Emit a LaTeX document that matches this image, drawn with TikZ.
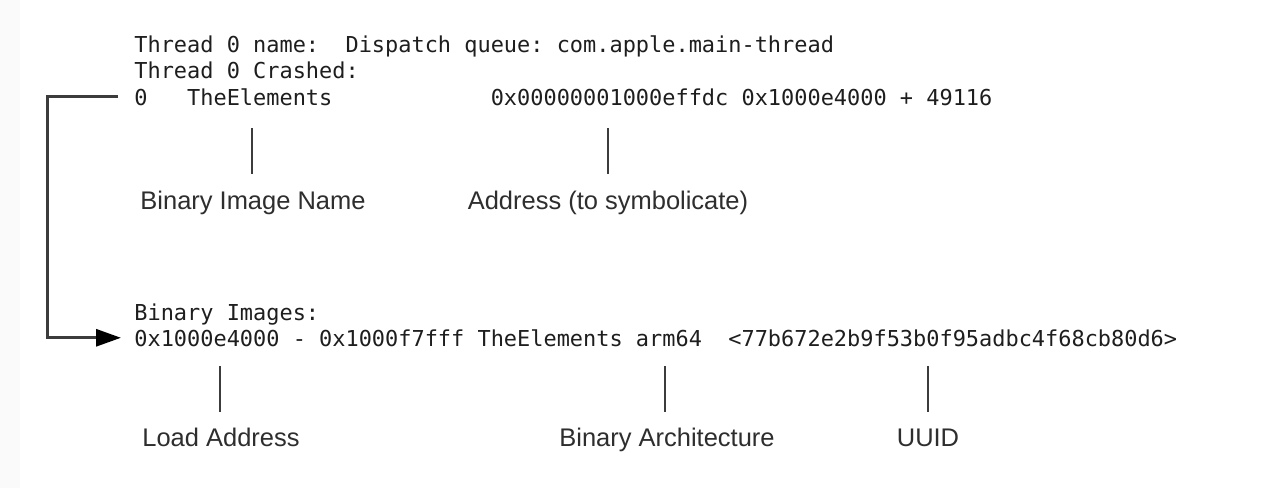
\documentclass[tikz,border=0pt]{standalone}
\usepackage{fontspec}
\setmainfont{Liberation Sans}
\newfontfamily\codefont{DejaVu Sans Mono}
\usetikzlibrary{arrows.meta}
\definecolor{inchiostro}{HTML}{1E1E1E}
\definecolor{grafite}{HTML}{2E2E2E}
\definecolor{tratto}{HTML}{3C3C3C}
\definecolor{margine}{HTML}{FAFAFA}
\tikzstyle{codeline} = [anchor=base west, inner sep=0pt, text=inchiostro,
font=\codefont\fontsize{12.48pt}{15pt}\selectfont\frenchspacing]
\tikzstyle{captiontext} = [anchor=base, inner sep=0pt, text=grafite,
font=\fontsize{14.5pt}{17pt}\selectfont]
\tikzstyle{tickmark} = [line width=0.05cm, draw=tratto]
\tikzstyle{arrow} = [line width=0.06cm, draw=tratto, -{Triangle[length=0.5cm,width=0.34cm,color=black]}]

\begin{document}
\begin{tikzpicture}[x=0.02cm,y=-0.02cm]
						\fill[white] (0,0) rectangle (1284,488);
						\fill[margine] (0,0) rectangle (20,488);
						\useasboundingbox (0,0) rectangle (1284,488);
						% crash report, thread 0
						\node[codeline] (threadname) at (134,52) {Thread 0 name:~~Dispatch queue: com.apple.main-thread};
						\node[codeline] (crashed) at (134,78) {Thread 0 Crashed:};
						\node[codeline] (frame) at (134,105) {0~~~TheElements~~~~~~~~~~~~0x00000001000effdc 0x1000e4000 + 49116};
						% binary images
						\node[codeline] (images) at (134,320) {Binary Images:};
						\node[codeline] (image) at (134,346) {0x1000e4000 - 0x1000f7fff TheElements arm64~~<77b672e2b9f53b0f95adbc4f68cb80d6>};
						
						\node[captiontext] (imgname) at (253,209) {Binary Image Name};
						\node[captiontext] (address) at (608,209) {Address (to symbolicate)};
						\node[captiontext] (loadaddr) at (221,446) {Load Address};
						\node[captiontext] (arch) at (667,446) {Binary Architecture};
						\node[captiontext] (uuid) at (928,446) {UUID};
						
						\coordinate (t1a) at (252,128);
						\coordinate (t1b) at (252,174);
						\coordinate (t2a) at (608,128);
						\coordinate (t2b) at (608,174);
						\coordinate (t3a) at (220,366);
						\coordinate (t3b) at (220,412);
						\coordinate (t4a) at (665,366);
						\coordinate (t4b) at (665,412);
						\coordinate (t5a) at (928,366);
						\coordinate (t5b) at (928,412);
						
						\draw[tickmark] (t1a) -- (t1b);
						\draw[tickmark] (t2a) -- (t2b);
						\draw[tickmark] (t3a) -- (t3b);
						\draw[tickmark] (t4a) -- (t4b);
						\draw[tickmark] (t5a) -- (t5b);
						\draw[arrow] ([xshift=-0.32cm]frame.west) -- ++(-71,0) |- ([xshift=-0.26cm]image.west);
					\end{tikzpicture}
\end{document}
